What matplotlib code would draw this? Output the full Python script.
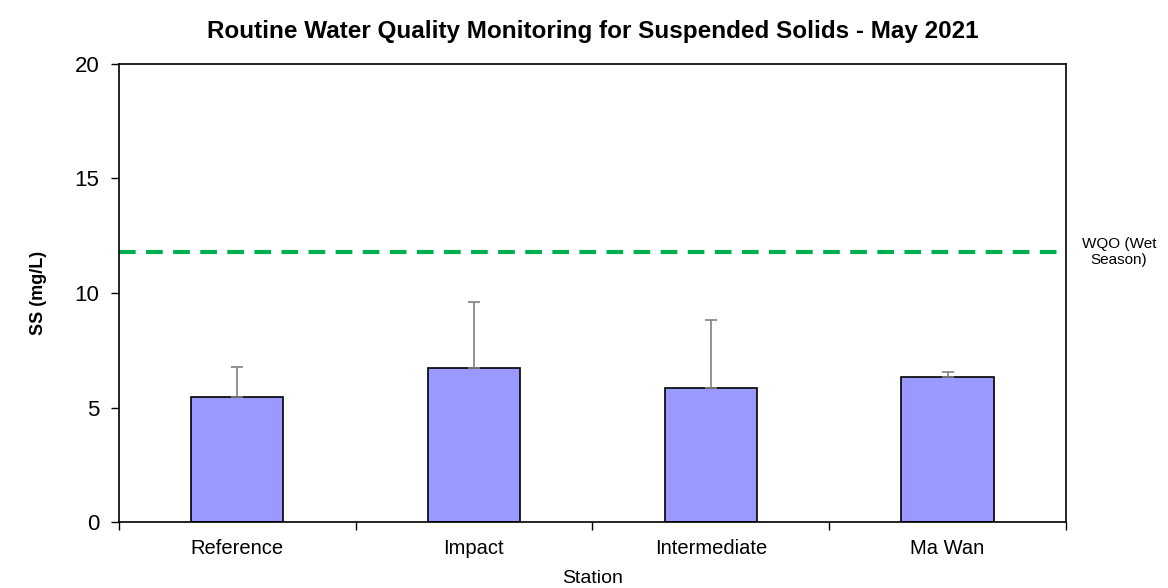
import matplotlib.pyplot as plt
import numpy as np

plt.rcParams['font.family'] = ['Liberation Sans', 'DejaVu Sans']

stations = ['Reference', 'Impact', 'Intermediate', 'Ma Wan']
ss_mean = [5.45, 6.71, 5.84, 6.32]
ss_err = [1.33, 2.88, 2.98, 0.24]
wqo = 11.8

fig = plt.figure(figsize=(11.68, 5.88), dpi=100)
ax = fig.add_axes([0.1016, 0.1122, 0.8111, 0.779])

x = np.arange(len(stations))
ax.bar(x, ss_mean, width=0.39, color='#9999FF', edgecolor='black', linewidth=1.2, zorder=2)
ax.errorbar(x, ss_mean, yerr=[np.zeros(len(x)), ss_err], fmt='none',
            ecolor='#808080', elinewidth=1.2, capsize=4, capthick=1.2, zorder=3)
ax.axhline(wqo, color='#00B050', linestyle=(0, (4, 2.5)), linewidth=3, zorder=1)

ax.set_xlim(-0.5, len(stations) - 0.5)
ax.set_ylim(0, 20)
ax.set_yticks([0, 5, 10, 15, 20])
ax.set_xticks(x)
ax.set_xticklabels(stations, fontsize=14.5)
ax.set_xticks(np.arange(-0.5, len(stations)), minor=True)
ax.tick_params(axis='x', which='major', length=0, pad=12)
ax.tick_params(axis='x', which='minor', length=6, direction='out', width=1)
ax.tick_params(axis='y', length=6, direction='out', labelsize=16, width=1, pad=8)
for s in ax.spines.values():
    s.set_linewidth(1.2)

ax.set_xlabel('Station', fontsize=14, labelpad=9)
ax.set_ylabel('SS (mg/L)', fontsize=13, fontweight='bold', labelpad=20)
ax.set_title('Routine Water Quality Monitoring for Suspended Solids - May 2021',
             fontsize=17.5, fontweight='bold', pad=19)

ax.text(1.056, wqo, 'WQO (Wet\nSeason)', transform=ax.get_yaxis_transform(),
        fontsize=11, ha='center', va='center')

fig.savefig('out.png', dpi=100)
